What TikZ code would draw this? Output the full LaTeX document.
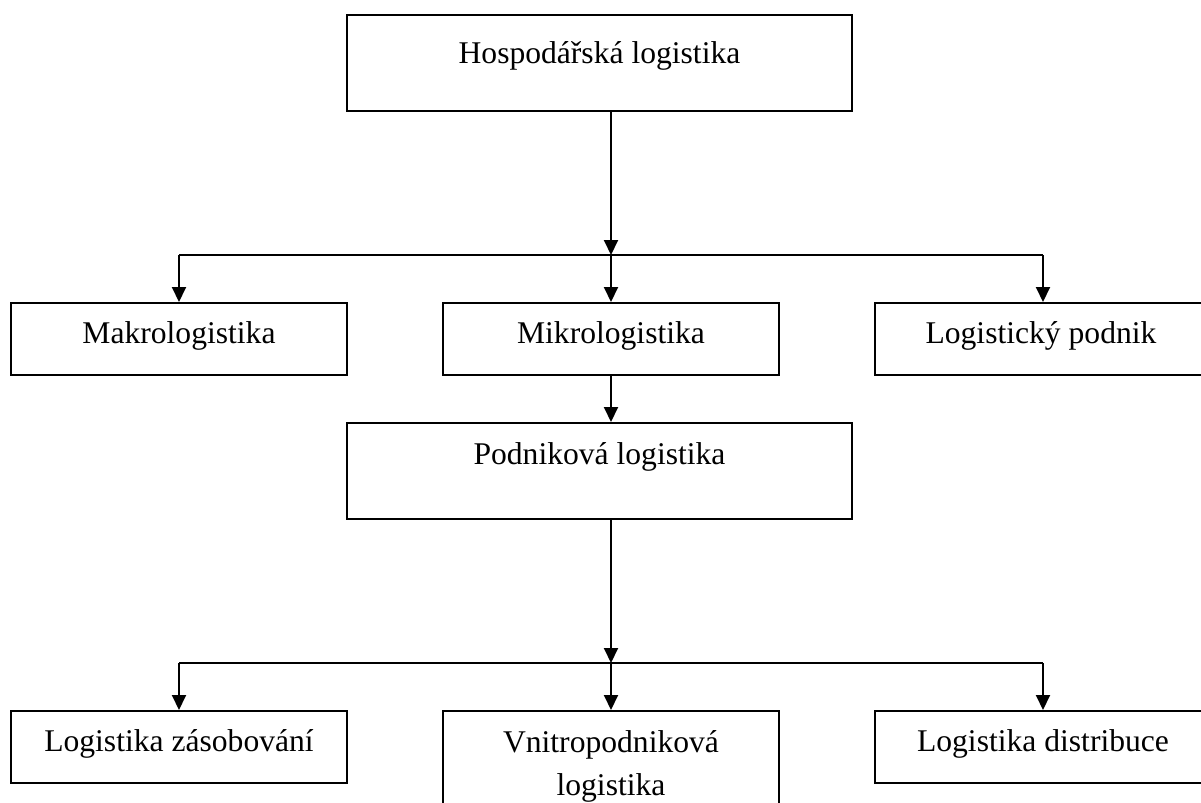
\documentclass[tikz,border=0pt]{standalone}
\usepackage{fontspec}
\setmainfont{Liberation Serif}
\usetikzlibrary{arrows.meta}
\begin{document}
% one unit = one pixel of a 1201 x 803 canvas, y grows downwards
\begin{tikzpicture}[x=0.5pt,y=-0.5pt,
  box/.style={draw=black, line width=1pt, rectangle, inner sep=0pt, fill=none},
  wide/.style={box, minimum width=252.5pt, minimum height=48pt},
  narrow/.style={box, minimum width=168pt, minimum height=36pt},
  txt/.style={anchor=base, inner sep=0pt, font=\fontsize{15.8pt}{20pt}\selectfont},
  arr/.style={draw=black, line width=1pt, -{Triangle[length=7.5pt,width=7pt]}},
  bus/.style={draw=black, line width=1pt}]
\useasboundingbox (0,0) rectangle (1201,803);

% top level
\node[wide] (hosp) at (599.5,63) {};
\node[txt] (hospt) at (599.5,63) {Hospodářská logistika};

% second level
\node[narrow] (makro) at (179,339) {};
\node[txt] (makrot) at (179,343) {Makrologistika};
\node[narrow] (mikro) at (611,339) {};
\node[txt] (mikrot) at (611,343) {Mikrologistika};
\node[narrow] (lpod) at (1043,339) {};
\node[txt] (lpodt) at (1041,343) {Logistický podnik};

% company logistics
\node[wide] (podn) at (599.5,471) {};
\node[txt] (podnt) at (599.5,464) {Podniková logistika};

% bottom level
\node[narrow] (zas) at (179,747) {};
\node[txt] (zast) at (179,751) {Logistika zásobování};
\node[box, minimum width=168pt, minimum height=59.5pt] (vnitro) at (611,770.5) {};
\node[txt] (vnitrot1) at (611,752) {Vnitropodniková};
\node[txt] (vnitrot2) at (611,795) {logistika};
\node[narrow] (dist) at (1043,747) {};
\node[txt] (distt) at (1043,751) {Logistika distribuce};

% upper branching
\coordinate (j1) at (611,255);
\draw[arr] (hosp.south -| j1) -- (j1);
\draw[arr] (j1) -- (mikro.north);
\draw[bus] (makro.north |- j1) -- (lpod.north |- j1);
\draw[arr] (makro.north |- j1) -- (makro.north);
\draw[arr] (lpod.north |- j1) -- (lpod.north);

% micro to company logistics
\draw[arr] (mikro.south) -- (mikro.south |- podn.north);

% lower branching
\coordinate (j2) at (611,663);
\draw[arr] (podn.south -| j2) -- (j2);
\draw[arr] (j2) -- (vnitro.north);
\draw[bus] (zas.north |- j2) -- (dist.north |- j2);
\draw[arr] (zas.north |- j2) -- (zas.north);
\draw[arr] (dist.north |- j2) -- (dist.north);
\end{tikzpicture}
\end{document}
